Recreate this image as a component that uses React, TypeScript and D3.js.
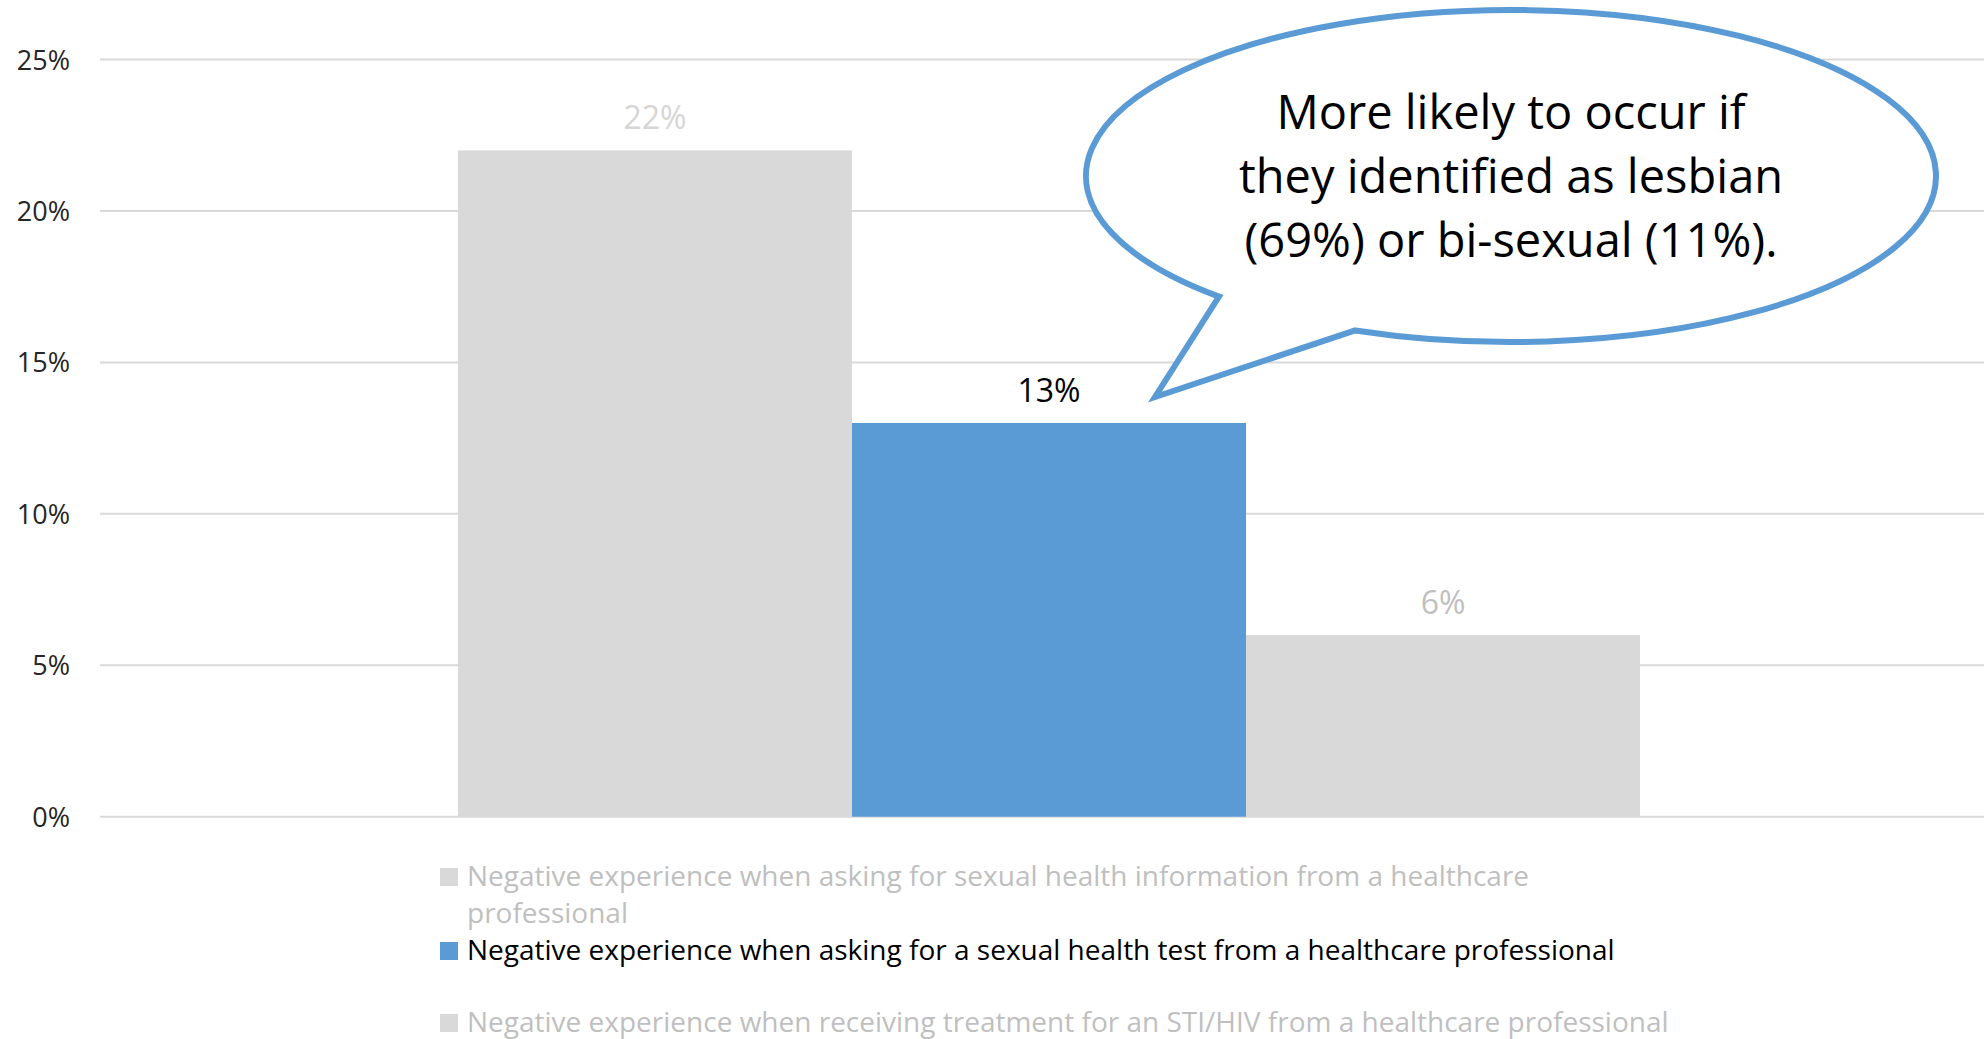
import React from "react";
import * as d3 from "d3";

const categories = [
  "Negative experience when asking for sexual health information from a healthcare professional",
  "Negative experience when asking for a sexual health test from a healthcare professional",
  "Negative experience when receiving treatment for an STI/HIV from a healthcare professional",
];
const legendLines = [
  ["Negative experience when asking for sexual health information from a healthcare", "professional"],
  ["Negative experience when asking for a sexual health test from a healthcare professional"],
  ["Negative experience when receiving treatment for an STI/HIV from a healthcare professional"],
];
const values = [22, 13, 6];
const barColors = ["#D9D9D9", "#5B9BD5", "#D9D9D9"];
const labelColors = ["#D6D6D6", "#000000", "#BFBFBF"];
const legendTextColors = ["#BFBFBF", "#000000", "#BFBFBF"];
const yTicks = [0, 5, 10, 15, 20, 25];
const calloutLines = [
  "More likely to occur if",
  "they identified as lesbian",
  "(69%) or bi-sexual (11%).",
];

const W = 1984;
const H = 1039;
const FONT = "'Open Sans', 'DejaVu Sans', sans-serif";

export default function App() {
  const y = d3.scaleLinear().domain([0, 25]).range([816.7, 59.5]);
  const x = d3
    .scaleBand<number>()
    .domain(values.map((_, i) => i))
    .range([458, 1640])
    .paddingInner(0)
    .paddingOuter(0);

  // callout ellipse
  const cx = 1511, cy = 176, rx = 425, ry = 166;
  const pt = (deg: number) => {
    const t = (deg * Math.PI) / 180;
    return [cx + rx * Math.cos(t), cy + ry * Math.sin(t)];
  };
  const pRight = pt(111.5);
  const pLeft = pt(133.4);
  const tip = [1155, 397];
  const calloutPath = `M${pRight[0]},${pRight[1]} A${rx},${ry} 0 1 0 ${pLeft[0]},${pLeft[1]} L${tip[0]},${tip[1]} Z`;

  const legendBaselines = [[886, 923], [960], [1032]];

  return (
    <svg
      width={W}
      height={H}
      style={{ position: "absolute", left: 0, top: 0, background: "#fff" }}
      fontFamily={FONT}
    >
      <rect x={0} y={0} width={W} height={H} fill="#fff" />
      {/* gridlines */}
      {yTicks.map((t) => (
        <line key={"g" + t} x1={100} x2={W} y1={y(t)} y2={y(t)} stroke="#D9D9D9" strokeWidth={2} />
      ))}
      {/* y labels */}
      {yTicks.map((t) => (
        <text key={"l" + t} x={70} y={y(t) + 10} textAnchor="end" fontSize={27} fill="#262626">
          {t + "%"}
        </text>
      ))}
      {/* bars */}
      {values.map((v, i) => (
        <rect
          key={"b" + i}
          x={x(i)!}
          y={y(v)}
          width={x.bandwidth()}
          height={y(0) - y(v)}
          fill={barColors[i]}
        />
      ))}
      {/* data labels */}
      {values.map((v, i) => (
        <text
          key={"d" + i}
          x={x(i)! + x.bandwidth() / 2}
          y={y(v) - 21}
          textAnchor="middle"
          fontSize={32}
          fill={labelColors[i]}
        >
          {v + "%"}
        </text>
      ))}
      {/* callout */}
      <path d={calloutPath} fill="#fff" stroke="#5B9BD5" strokeWidth={6} strokeLinejoin="miter" />
      {calloutLines.map((s, i) => (
        <text key={"c" + i} x={1511} y={129 + i * 64} textAnchor="middle" fontSize={47} fill="#000">
          {s}
        </text>
      ))}
      {/* legend */}
      {categories.map((c, i) => (
        <g key={"lg" + i}>
          <rect x={440} y={legendBaselines[i][0] - 18} width={18} height={18} fill={barColors[i]} />
          {legendLines[i].map((line, j) => (
            <text key={j} x={467} y={legendBaselines[i][j]} fontSize={28} fill={legendTextColors[i]}>
              {line}
            </text>
          ))}
        </g>
      ))}
    </svg>
  );
}
